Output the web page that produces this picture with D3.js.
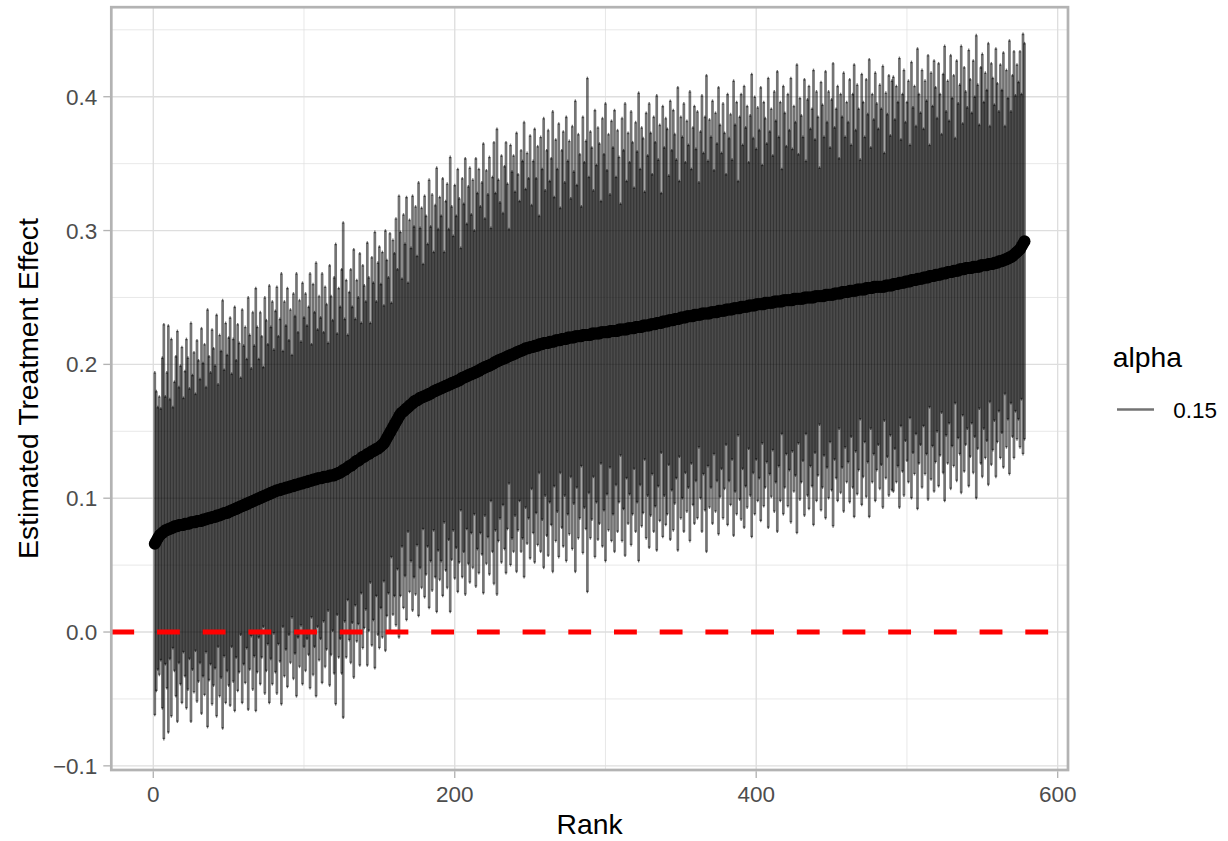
<!DOCTYPE html>
<html>
<head>
<meta charset="utf-8">
<title>Estimated Treatment Effect by Rank</title>
<script src="https://cdn.jsdelivr.net/npm/d3@7"></script>
<style>
body { margin: 0; background: #ffffff; }
text { font-family: "Liberation Sans", Arial, sans-serif; }
</style>
</head>
<body>
<div id="chart"></div>
<script>

// point estimates, sorted, one per rank (1..578)
var estimate = [
0.066,0.068,0.070,0.072,0.073,0.074,0.075,0.076,0.076,0.077,
0.077,0.078,0.078,0.079,0.079,0.079,0.080,0.080,0.080,0.080,
0.081,0.081,0.081,0.081,0.082,0.082,0.082,0.082,0.083,0.083,
0.083,0.083,0.084,0.084,0.084,0.085,0.085,0.085,0.086,0.086,
0.086,0.087,0.087,0.087,0.088,0.088,0.089,0.089,0.089,0.090,
0.090,0.091,0.091,0.092,0.092,0.093,0.093,0.094,0.094,0.095,
0.095,0.096,0.096,0.097,0.097,0.098,0.098,0.099,0.099,0.100,
0.100,0.101,0.101,0.102,0.102,0.103,0.103,0.104,0.104,0.105,
0.105,0.106,0.106,0.106,0.107,0.107,0.107,0.108,0.108,0.108,
0.109,0.109,0.109,0.110,0.110,0.110,0.111,0.111,0.111,0.112,
0.112,0.112,0.113,0.113,0.113,0.114,0.114,0.114,0.115,0.115,
0.115,0.115,0.116,0.116,0.116,0.116,0.117,0.117,0.117,0.117,
0.118,0.118,0.119,0.119,0.120,0.121,0.121,0.122,0.123,0.124,
0.124,0.125,0.126,0.127,0.128,0.128,0.129,0.130,0.131,0.131,
0.132,0.133,0.133,0.134,0.135,0.135,0.136,0.137,0.137,0.138,
0.139,0.140,0.141,0.143,0.145,0.147,0.149,0.151,0.153,0.155,
0.157,0.159,0.161,0.163,0.164,0.165,0.166,0.167,0.168,0.169,
0.170,0.171,0.172,0.173,0.173,0.174,0.175,0.175,0.176,0.176,
0.177,0.177,0.178,0.178,0.179,0.180,0.180,0.181,0.181,0.182,
0.182,0.183,0.183,0.184,0.184,0.185,0.185,0.186,0.186,0.187,
0.187,0.188,0.188,0.189,0.190,0.190,0.191,0.191,0.192,0.192,
0.193,0.193,0.194,0.194,0.195,0.195,0.196,0.197,0.197,0.198,
0.198,0.199,0.199,0.200,0.200,0.201,0.202,0.202,0.203,0.203,
0.204,0.204,0.205,0.205,0.206,0.206,0.207,0.207,0.208,0.208,
0.209,0.209,0.210,0.210,0.211,0.211,0.212,0.212,0.212,0.213,
0.213,0.213,0.214,0.214,0.214,0.215,0.215,0.215,0.216,0.216,
0.216,0.216,0.217,0.217,0.217,0.217,0.218,0.218,0.218,0.218,
0.219,0.219,0.219,0.219,0.220,0.220,0.220,0.220,0.220,0.221,
0.221,0.221,0.221,0.221,0.222,0.222,0.222,0.222,0.222,0.222,
0.223,0.223,0.223,0.223,0.223,0.223,0.224,0.224,0.224,0.224,
0.224,0.224,0.225,0.225,0.225,0.225,0.225,0.225,0.226,0.226,
0.226,0.226,0.226,0.226,0.227,0.227,0.227,0.227,0.227,0.228,
0.228,0.228,0.228,0.228,0.229,0.229,0.229,0.229,0.229,0.230,
0.230,0.230,0.230,0.231,0.231,0.231,0.231,0.232,0.232,0.232,
0.232,0.233,0.233,0.233,0.233,0.234,0.234,0.234,0.234,0.235,
0.235,0.235,0.235,0.236,0.236,0.236,0.236,0.236,0.237,0.237,
0.237,0.237,0.237,0.238,0.238,0.238,0.238,0.238,0.238,0.239,
0.239,0.239,0.239,0.239,0.240,0.240,0.240,0.240,0.240,0.241,
0.241,0.241,0.241,0.241,0.242,0.242,0.242,0.242,0.242,0.243,
0.243,0.243,0.243,0.243,0.244,0.244,0.244,0.244,0.244,0.245,
0.245,0.245,0.245,0.245,0.245,0.246,0.246,0.246,0.246,0.246,
0.246,0.247,0.247,0.247,0.247,0.247,0.247,0.248,0.248,0.248,
0.248,0.248,0.248,0.248,0.249,0.249,0.249,0.249,0.249,0.249,
0.249,0.250,0.250,0.250,0.250,0.250,0.250,0.250,0.251,0.251,
0.251,0.251,0.251,0.251,0.251,0.252,0.252,0.252,0.252,0.252,
0.252,0.253,0.253,0.253,0.253,0.253,0.254,0.254,0.254,0.254,
0.254,0.255,0.255,0.255,0.255,0.255,0.256,0.256,0.256,0.256,
0.256,0.256,0.257,0.257,0.257,0.257,0.257,0.258,0.258,0.258,
0.258,0.258,0.258,0.258,0.258,0.259,0.259,0.259,0.259,0.259,
0.260,0.260,0.260,0.260,0.261,0.261,0.261,0.261,0.262,0.262,
0.262,0.262,0.263,0.263,0.263,0.263,0.264,0.264,0.264,0.264,
0.265,0.265,0.265,0.265,0.266,0.266,0.266,0.266,0.267,0.267,
0.267,0.267,0.268,0.268,0.268,0.268,0.269,0.269,0.269,0.269,
0.270,0.270,0.270,0.270,0.271,0.271,0.271,0.271,0.272,0.272,
0.272,0.272,0.272,0.273,0.273,0.273,0.273,0.273,0.274,0.274,
0.274,0.274,0.274,0.275,0.275,0.275,0.275,0.276,0.276,0.276,
0.277,0.277,0.277,0.278,0.278,0.279,0.279,0.280,0.280,0.281,
0.282,0.283,0.284,0.285,0.286,0.288,0.290,0.292
]

// half width of each interval (estimate +/- halfWidth)
var halfWidth = [
.128,.112,.098,.104,.094,.131,.155,.100,.118,.152,
.097,.141,.090,.108,.127,.146,.103,.119,.133,.095,
.114,.138,.124,.101,.149,.110,.127,.096,.135,.120,
.106,.144,.117,.131,.099,.156,.121,.109,.140,.126,
.113,.150,.098,.135,.122,.160,.107,.142,.118,.130,
.145,.102,.128,.151,.111,.137,.123,.096,.147,.119,
.133,.108,.154,.125,.100,.141,.116,.158,.129,.104,
.139,.120,.097,.148,.131,.112,.156,.124,.143,.106,
.135,.152,.115,.128,.161,.103,.140,.121,.149,.110,
.132,.098,.144,.126,.158,.114,.137,.106,.150,.123,
.141,.117,.130,.155,.102,.146,.125,.162,.111,.136,
.120,.153,.108,.142,.129,.100,.157,.134,.116,.148,
.172,.105,.138,.124,.151,.185,.113,.141,.099,.130,
.147,.118,.160,.107,.135,.122,.154,.101,.143,.128,
.115,.158,.132,.097,.145,.126,.163,.110,.139,.150,
.121,.144,.103,.157,.133,.118,.149,.095,.140,.128,
.152,.112,.165,.136,.100,.147,.124,.158,.093,.139,
.117,.155,.131,.145,.108,.162,.127,.142,.099,.150,
.134,.113,.160,.125,.148,.104,.139,.166,.120,.143,
.129,.156,.101,.138,.151,.116,.170,.132,.110,.147,
.124,.158,.136,.098,.149,.130,.163,.114,.141,.155,
.119,.145,.106,.160,.133,.151,.122,.139,.168,.111,
.147,.128,.156,.102,.140,.165,.126,.174,.135,.118,
.152,.109,.143,.161,.129,.095,.157,.137,.148,.121,
.164,.133,.112,.150,.141,.170,.119,.146,.127,.158,
.106,.139,.162,.125,.149,.096,.155,.131,.168,.114,
.144,.159,.120,.137,.172,.108,.150,.128,.162,.099,
.141,.155,.117,.166,.132,.147,.104,.158,.124,.176,
.113,.151,.136,.097,.163,.129,.145,.192,.118,.152,
.139,.107,.167,.126,.154,.142,.098,.160,.133,.171,
.121,.148,.102,.157,.137,.165,.115,.150,.129,.094,
.158,.134,.169,.111,.146,.124,.162,.139,.105,.153,
.131,.175,.118,.149,.140,.100,.159,.127,.166,.143,
.112,.155,.136,.170,.122,.148,.097,.161,.130,.152,
.144,.108,.164,.127,.157,.138,.119,.173,.103,.150,
.135,.160,.116,.146,.128,.168,.110,.141,.156,.124,
.152,.099,.137,.163,.120,.147,.178,.114,.145,.131,
.158,.106,.149,.126,.167,.139,.118,.155,.133,.101,
.161,.128,.146,.112,.170,.137,.154,.095,.143,.159,
.121,.165,.134,.150,.107,.142,.173,.125,.156,.116,
.147,.130,.162,.104,.151,.138,.119,.168,.128,.145,
.110,.157,.135,.172,.123,.149,.099,.160,.140,.115,
.154,.127,.166,.113,.144,.132,.175,.108,.150,.137,
.121,.163,.102,.148,.158,.126,.141,.170,.117,.153,
.134,.096,.160,.143,.119,.167,.129,.152,.110,.146,
.173,.124,.138,.155,.101,.149,.131,.164,.116,.142,
.127,.158,.109,.147,.169,.120,.153,.135,.097,.161,
.140,.114,.156,.130,.171,.105,.145,.125,.160,.137,
.118,.151,.133,.165,.100,.144,.128,.157,.112,.153,
.155,.123,.148,.136,.168,.107,.141,.159,.119,.134,
.150,.102,.163,.129,.145,.115,.172,.138,.124,.156,
.111,.147,.132,.166,.098,.152,.127,.161,.140,.117,
.158,.135,.104,.149,.170,.121,.143,.113,.162,.130,
.146,.099,.157,.125,.138,.167,.109,.151,.132,.120,
.163,.141,.116,.154,.127,.173,.136,.106,.148,.158,
.122,.144,.131,.165,.103,.150,.139,.118,.160,.134,
.112,.147,.128,.155,.100,.141,.120,.162,.109,.135,
.152,.118,.140,.126,.148,.114,.157,.148
]

var xTicks = [0, 200, 400, 600]
var xMinor = [100, 300, 500]
var yTicks = [-0.1, 0.0, 0.1, 0.2, 0.3, 0.4]
var yMinor = [-0.05, 0.05, 0.15, 0.25, 0.35, 0.45]
var refLine = [0]
var legendLabels = ["0.15"]

var fig = {width: 1228, height: 841}
var panel = {left: 111.3, right: 1068, top: 7.2, bottom: 770}

var ranks = estimate.map(function(d, i) { return i + 1 })

// ggplot style 5% expansion on x
var xr = d3.extent(ranks), xpad = (xr[1] - xr[0]) * 0.05
var x = d3.scaleLinear()
	.domain([xr[0] - xpad, xr[1] + xpad])
	.range([panel.left, panel.right])

var y = d3.scaleLinear()
	.domain([-0.1031, 0.4669])
	.range([panel.bottom, panel.top])

var svg = d3.select("#chart").append("svg")
	.attr("width", fig.width)
	.attr("height", fig.height)

svg.append("rect")
	.attr("width", fig.width)
	.attr("height", fig.height)
	.attr("fill", "#ffffff")

var grid = svg.append("g")

grid.selectAll(".xminor").data(xMinor).enter().append("line")
	.attr("x1", function(d) { return x(d) }).attr("x2", function(d) { return x(d) })
	.attr("y1", panel.top).attr("y2", panel.bottom)
	.attr("stroke", "#dedede").attr("stroke-width", 0.7)

grid.selectAll(".yminor").data(yMinor).enter().append("line")
	.attr("y1", function(d) { return y(d) }).attr("y2", function(d) { return y(d) })
	.attr("x1", panel.left).attr("x2", panel.right)
	.attr("stroke", "#dedede").attr("stroke-width", 0.7)

grid.selectAll(".xmajor").data(xTicks).enter().append("line")
	.attr("x1", function(d) { return x(d) }).attr("x2", function(d) { return x(d) })
	.attr("y1", panel.top).attr("y2", panel.bottom)
	.attr("stroke", "#dedede").attr("stroke-width", 1.35)

grid.selectAll(".ymajor").data(yTicks).enter().append("line")
	.attr("y1", function(d) { return y(d) }).attr("y2", function(d) { return y(d) })
	.attr("x1", panel.left).attr("x2", panel.right)
	.attr("stroke", "#dedede").attr("stroke-width", 1.35)

// error bars: vertical line plus a short cap at each end
var bars = svg.append("g")
	.attr("stroke", "#000000")
	.attr("stroke-opacity", 0.55)
	.attr("stroke-width", 2.7)
	.attr("fill", "none")

ranks.forEach(function(r, i) {
	var lo = estimate[i] - halfWidth[i], hi = estimate[i] + halfWidth[i]
	bars.append("line")
		.attr("x1", x(r)).attr("x2", x(r))
		.attr("y1", y(hi)).attr("y2", y(lo))
	bars.append("line")
		.attr("x1", x(r - 0.45)).attr("x2", x(r + 0.45))
		.attr("y1", y(hi)).attr("y2", y(hi))
	bars.append("line")
		.attr("x1", x(r - 0.45)).attr("x2", x(r + 0.45))
		.attr("y1", y(lo)).attr("y2", y(lo))
})

svg.append("g").selectAll("circle").data(ranks).enter().append("circle")
	.attr("cx", function(d) { return x(d) })
	.attr("cy", function(d, i) { return y(estimate[i]) })
	.attr("r", 6)
	.attr("fill", "#000000")

svg.append("g").selectAll("line").data(refLine).enter().append("line")
	.attr("x1", panel.left).attr("x2", panel.right)
	.attr("y1", function(d) { return y(d) }).attr("y2", function(d) { return y(d) })
	.attr("stroke", "#ff0000")
	.attr("stroke-width", 5)
	.attr("stroke-dasharray", "22.85 22.85")

svg.append("rect")
	.attr("x", panel.left).attr("y", panel.top)
	.attr("width", panel.right - panel.left)
	.attr("height", panel.bottom - panel.top)
	.attr("fill", "none")
	.attr("stroke", "#b3b3b3")
	.attr("stroke-width", 2.7)

// axes
var xAxis = svg.append("g")
xAxis.selectAll("line").data(xTicks).enter().append("line")
	.attr("x1", function(d) { return x(d) }).attr("x2", function(d) { return x(d) })
	.attr("y1", panel.bottom + 1.3).attr("y2", panel.bottom + 8)
	.attr("stroke", "#b3b3b3").attr("stroke-width", 1.35)
xAxis.selectAll("text").data(xTicks).enter().append("text")
	.text(function(d) { return d3.format("d")(d) })
	.attr("x", function(d) { return x(d) })
	.attr("y", 801.5)
	.attr("text-anchor", "middle")
	.attr("font-size", 22.5)
	.attr("fill", "#4d4d4d")

var yAxis = svg.append("g")
yAxis.selectAll("line").data(yTicks).enter().append("line")
	.attr("y1", function(d) { return y(d) }).attr("y2", function(d) { return y(d) })
	.attr("x1", panel.left - 1.3).attr("x2", panel.left - 8)
	.attr("stroke", "#b3b3b3").attr("stroke-width", 1.35)
yAxis.selectAll("text").data(yTicks).enter().append("text")
	.text(function(d) { return d3.format(".1f")(d).replace("-", "\u2212") })
	.attr("x", 97.3)
	.attr("y", function(d) { return y(d) + 8 })
	.attr("text-anchor", "end")
	.attr("font-size", 22.5)
	.attr("fill", "#4d4d4d")

svg.append("text")
	.text("Rank")
	.attr("x", (panel.left + panel.right) / 2)
	.attr("y", 834.3)
	.attr("text-anchor", "middle")
	.attr("font-size", 28.3)
	.attr("fill", "#000000")

svg.append("text")
	.text("Estimated Treatment Effect")
	.attr("text-anchor", "middle")
	.attr("font-size", 28.3)
	.attr("fill", "#000000")
	.attr("transform", "translate(38," + (panel.top + panel.bottom) / 2 + ") rotate(-90)")

// legend
var legend = svg.append("g")
legend.append("text")
	.text("alpha")
	.attr("x", 1112.7).attr("y", 367)
	.attr("font-size", 28.3)
	.attr("fill", "#000000")
legend.selectAll("line").data(legendLabels).enter().append("line")
	.attr("x1", 1117).attr("x2", 1154)
	.attr("y1", 409.5).attr("y2", 409.5)
	.attr("stroke", "#000000")
	.attr("stroke-opacity", 0.55)
	.attr("stroke-width", 2.7)
legend.selectAll("text.lab").data(legendLabels).enter().append("text")
	.attr("class", "lab")
	.text(function(d) { return d })
	.attr("x", 1173.3).attr("y", 418)
	.attr("font-size", 22.5)
	.attr("fill", "#000000")

</script>
</body>
</html>
